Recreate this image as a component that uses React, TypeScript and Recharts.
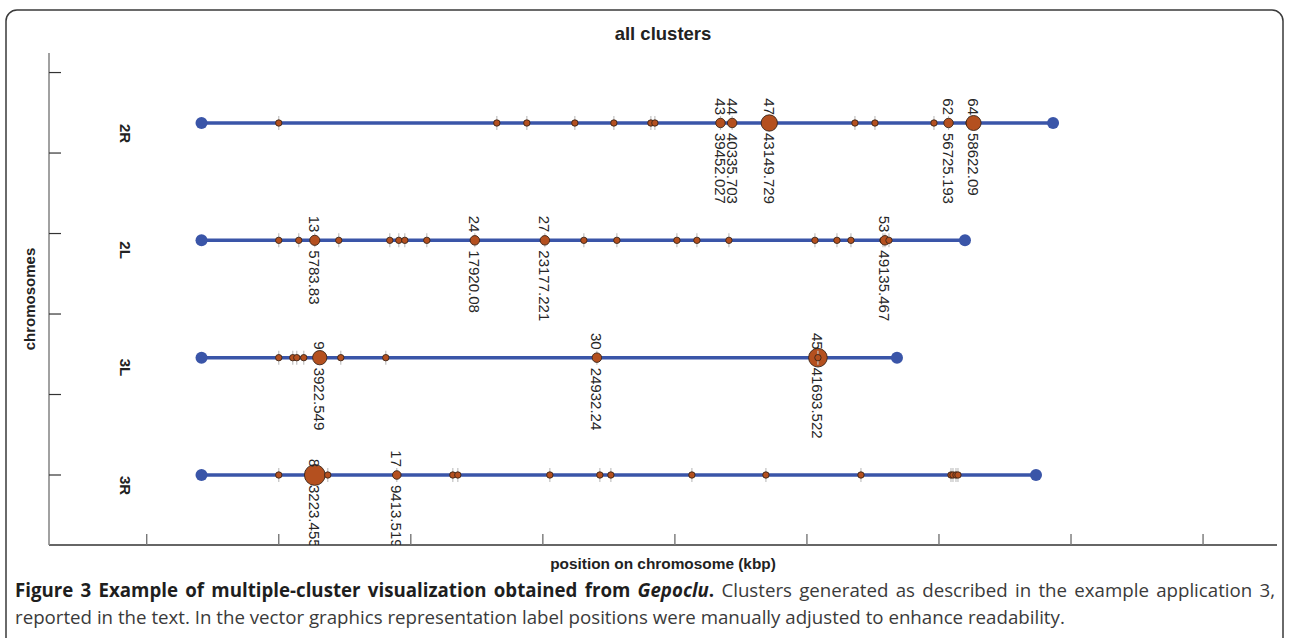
import React from 'react';
import { ScatterChart, Scatter, XAxis, YAxis, Label } from 'recharts';

// ---------- data ----------
const chromosomeNames = ['3R', '3L', '2L', '2R'];
const chromosomeRows = [1, 2, 3, 4];
const chromosomeStart = [150, 150, 150, 150];
const chromosomeEnd = [63350, 52820, 57970, 64640];

// cluster positions (kbp, as plotted) and relative cluster weights
const pos2R = [6000, 22515, 24788, 28424, 31379, 34182, 34485, 39452, 40336, 43150, 49636, 51152, 55621, 56725, 58273, 58622];
const wt2R = [1, 1, 1, 1, 1, 1, 1, 2.2, 2.2, 6.5, 1, 1, 1, 2.2, 1, 5.5];
const id2R = ['', '', '', '', '', '', '', '43', '44', '47', '', '', '', '62', '', '64'];
const val2R = ['', '', '', '', '', '', '', '39452.027', '40335.703', '43149.729', '', '', '', '56725.193', '', '58622.09'];

const pos2L = [6000, 7515, 8727, 10545, 14409, 15091, 15545, 17212, 20848, 26152, 29106, 31606, 36152, 37667, 40091, 46606, 48273, 49333, 51758, 51909, 52212];
const wt2L = [1, 1, 2.5, 1, 1, 1, 1, 1, 2.2, 2.2, 1, 1, 1, 1, 1, 1, 1, 1, 1, 2.2, 1];
const id2L = ['', '', '13', '', '', '', '', '', '24', '27', '', '', '', '', '', '', '', '', '', '53', ''];
const val2L = ['', '', '5783.83', '', '', '', '', '', '17920.08', '23177.221', '', '', '', '', '', '', '', '', '', '49135.467', ''];

const pos3L = [6000, 7061, 7364, 7894, 9106, 10697, 14106, 30091, 46833, 46833];
const wt3L = [1, 1, 1, 1, 5, 1, 1, 2.2, 8.5, 1];
const id3L = ['', '', '', '', '9', '', '', '30', '45', ''];
const val3L = ['', '', '', '', '3922.549', '', '', '24932.24', '41693.522', ''];

const pos3R = [6000, 8727, 9712, 14939, 19182, 19561, 26530, 30318, 31152, 37288, 42894, 50091, 56909, 57061, 57288, 57439];
const wt3R = [1, 10.5, 1, 1.8, 1, 1, 1, 1, 1, 1, 1, 1, 1, 1, 1, 1];
const id3R = ['', '8', '', '17', '', '', '', '', '', '', '', '', '', '', '', ''];
const val3R = ['', '3223.455', '', '9413.519', '', '', '', '', '', '', '', '', '', '', '', ''];

const xTicks = [-4000, 6000, 16000, 26000, 36000, 46000, 56000, 66000, 76000];
const yTicks = [1, 1.686, 2.372, 3.058, 3.744, 4.43];
const X_DOMAIN: [number, number] = [-11400, 81600];
const Y_DOMAIN: [number, number] = [0.4034, 4.5966];

// ---------- build series ----------
const build = (row: number, pos: number[], wt: number[], ids: string[], vals: string[]) =>
  pos.map((x, i) => ({ x, y: row, w: wt[i], id: ids[i], val: vals[i] }));

const clusterSets = [
  build(4, pos2R, wt2R, id2R, val2R),
  build(3, pos2L, wt2L, id2L, val2L),
  build(2, pos3L, wt3L, id3L, val3L),
  build(1, pos3R, wt3R, id3R, val3R),
];
const allClusters = clusterSets.flat();
const labeled = allClusters.filter((d) => d.id !== '');
const chromosomeLines = chromosomeRows.map((row, i) => [
  { x: chromosomeStart[i], y: row },
  { x: chromosomeEnd[i], y: row },
]);

// ---------- style ----------
const BLUE = '#3a55a8';
const ORANGE = '#b4501f';
const FONT = '"Liberation Sans", Arial, Helvetica, sans-serif';
const radiusOf = (w: number) => 3.2 * Math.sqrt(w);

const ClusterShape = (props: any) => {
  const { cx, cy, payload } = props;
  const r = radiusOf(payload.w);
  return (
    <g>
      <line x1={cx} x2={cx} y1={cy - 7} y2={cy + 7} stroke="#c2c2c2" strokeWidth={1.2} />
      <circle cx={cx} cy={cy} r={r} fill={ORANGE} stroke="#3a2518" strokeWidth={0.9} />
    </g>
  );
};

const EndShape = (props: any) => {
  const { cx, cy } = props;
  return <circle cx={cx} cy={cy} r={6} fill={BLUE} />;
};

const LabelShape = (props: any) => {
  const { cx, cy, payload } = props;
  return (
    <g fontFamily={FONT} fontSize={15} fill="#262626">
      <text transform={`translate(${cx},${cy - 8}) rotate(90)`} textAnchor="end" dominantBaseline="central">
        {payload.id}
      </text>
      <text transform={`translate(${cx},${cy + 10}) rotate(90)`} textAnchor="start" dominantBaseline="central">
        {payload.val}
      </text>
    </g>
  );
};

const EmptyTick = () => <g />;

const ChrTick = (props: any) => {
  const { y, payload } = props;
  const name = chromosomeNames[chromosomeRows.indexOf(payload.value)];
  return (
    <text
      transform={`translate(125,${y + 1}) rotate(90)`}
      textAnchor="start"
      dominantBaseline="central"
      fontFamily={FONT}
      fontWeight="bold"
      fontSize={15}
      fill="#222"
    >
      {name}
    </text>
  );
};

export default function App() {
  return (
    <div style={{ position: 'absolute', left: 0, top: 0, width: 1289, height: 638, background: '#fff', overflow: 'hidden' }}>
      <svg width={1289} height={638} style={{ position: 'absolute', left: 0, top: 0 }}>
        <rect x={6} y={10} width={1277} height={700} rx={11} ry={11} fill="none" stroke="#3a3a3a" strokeWidth={1.5} />
        <text x={663} y={33} textAnchor="middle" dominantBaseline="central" fontFamily={FONT} fontWeight="bold" fontSize={18.5} fill="#222">
          all clusters
        </text>
      </svg>
      <div style={{ position: 'absolute', left: 0, top: 0 }}>
        <ScatterChart width={1289} height={638} margin={{ top: 53, right: 12, bottom: 63, left: 0 }}>
          <XAxis
            type="number"
            dataKey="x"
            domain={X_DOMAIN}
            ticks={xTicks}
            allowDataOverflow
            interval={0}
            tick={<EmptyTick />}
            tickSize={-11}
            height={30}
            axisLine={{ stroke: '#333', strokeWidth: 1.3 }}
            tickLine={{ stroke: '#777', strokeWidth: 1.4 }}
          >
            <Label
              content={(p: any) => (
                <text
                  x={p.viewBox.x + p.viewBox.width / 2}
                  y={p.viewBox.y + 18}
                  textAnchor="middle"
                  dominantBaseline="central"
                  fontFamily={FONT}
                  fontWeight="bold"
                  fontSize={15.4}
                  fill="#222"
                >
                  position on chromosome (kbp)
                </text>
              )}
            />
          </XAxis>
          <YAxis
            type="number"
            dataKey="y"
            domain={Y_DOMAIN}
            ticks={yTicks}
            allowDataOverflow
            interval={0}
            width={48}
            tick={<EmptyTick />}
            tickSize={-12}
            axisLine={{ stroke: '#8a8a8a', strokeWidth: 1.6 }}
            tickLine={{ stroke: '#333', strokeWidth: 1.2 }}
          >
            <Label
              content={(p: any) => (
                <text
                  transform={`translate(29,${p.viewBox.y + p.viewBox.height / 2}) rotate(-90)`}
                  textAnchor="middle"
                  dominantBaseline="central"
                  fontFamily={FONT}
                  fontWeight="bold"
                  fontSize={15}
                  fill="#222"
                >
                  chromosomes
                </text>
              )}
            />
          </YAxis>
          <YAxis
            yAxisId="chr"
            type="number"
            dataKey="y"
            domain={Y_DOMAIN}
            ticks={chromosomeRows}
            allowDataOverflow
            width={1}
            axisLine={false}
            tickLine={false}
            tickSize={0}
            tickMargin={0}
            interval={0}
            tick={<ChrTick />}
          />
          {chromosomeLines.map((d, i) => (
            <Scatter
              key={`chr${i}`}
              yAxisId="chr"
              data={d}
              fill={BLUE}
              line={{ stroke: BLUE, strokeWidth: 3.5 }}
              shape={<EndShape />}
              isAnimationActive={false}
            />
          ))}
          <Scatter data={allClusters} fill={ORANGE} shape={<ClusterShape />} isAnimationActive={false} />
          <Scatter data={labeled} fill="none" shape={<LabelShape />} isAnimationActive={false} />
        </ScatterChart>
      </div>
      <div
        style={{
          position: 'absolute',
          left: 15,
          top: 576,
          width: 1260,
          fontFamily: '"Open Sans", sans-serif',
          fontSize: 18.7,
          lineHeight: '27px',
          color: '#3a3a3a',
        }}
      >
        <div style={{ textAlign: 'justify', textAlignLast: 'justify', whiteSpace: 'nowrap' as any }}>
          <span style={{ fontWeight: 700, color: '#1e1e1e' }}>
            Figure 3 Example of multiple-cluster visualization obtained from <i>Gepoclu</i>.
          </span>{' '}
          Clusters generated as described in the example application 3,
        </div>
        <div style={{ whiteSpace: 'nowrap' as any }}>
          reported in the text. In the vector graphics representation label positions were manually adjusted to enhance readability.
        </div>
      </div>
    </div>
  );
}
